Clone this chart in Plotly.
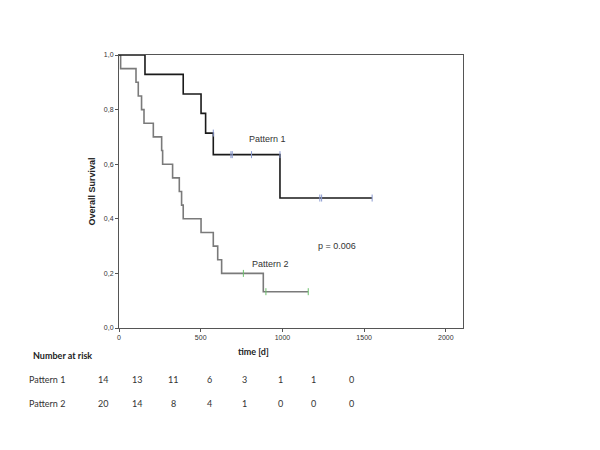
import plotly.graph_objects as go

# Kaplan-Meier steps
p1_time = [0, 159, 393, 502, 530, 577, 985, 1549]
p1_surv = [1.0, 0.929, 0.857, 0.786, 0.714, 0.635, 0.476, 0.476]
p1_cens_time = [577, 685, 693, 811, 985, 1229, 1240, 1549]
p1_cens_surv = [0.714, 0.635, 0.635, 0.635, 0.635, 0.476, 0.476, 0.476]

p2_time = [0, 10, 104, 118, 138, 153, 210, 261, 267, 328, 369, 383, 393, 502, 577, 604, 628, 883, 1158]
p2_surv = [1.0, 0.95, 0.90, 0.85, 0.80, 0.75, 0.70, 0.65, 0.60, 0.55, 0.50, 0.45, 0.40, 0.35, 0.30,
           0.25, 0.20, 0.133, 0.133]
p2_cens_time = [761, 899, 1158]
p2_cens_surv = [0.20, 0.133, 0.133]

risk_groups = ["Pattern 1", "Pattern 2"]
risk_p1 = [14, 13, 11, 6, 3, 1, 1, 0]
risk_p2 = [20, 14, 8, 4, 1, 0, 0, 0]

# page puts the figure 8px in from the window corner
OFF = 8
W, H = 600, 450
# plot area in window pixels
X0, X1, Y0, Y1 = 119, 463, 55, 328
L, T = X0 - OFF, Y0 - OFF
R, B = (W + OFF) - X1, (H + OFF) - Y1
pw, ph = X1 - X0, Y1 - Y0
risk_cols_px = [103, 137, 173, 209, 244, 280, 313, 351]

ARIAL = "Liberation Sans, Arial, sans-serif"
CALIBRI = "Lato, Carlito, sans-serif"


def px_x(x):
    return (x - X0) / pw


def px_y(y):
    return (Y1 - y) / ph


fig = go.Figure()
fig.add_trace(go.Scatter(x=p2_time, y=p2_surv, mode="lines", line_shape="hv",
                         line=dict(color="#7a7a7a", width=1.6), showlegend=False))
fig.add_trace(go.Scatter(x=p1_time, y=p1_surv, mode="lines", line_shape="hv",
                         line=dict(color="#1a1a1a", width=1.6), showlegend=False))
fig.add_trace(go.Scatter(x=p1_cens_time, y=p1_cens_surv, mode="markers",
                         marker=dict(symbol="line-ns", size=5, line=dict(color="#8a9ad0", width=1)),
                         showlegend=False))
fig.add_trace(go.Scatter(x=p2_cens_time, y=p2_cens_surv, mode="markers",
                         marker=dict(symbol="line-ns", size=5, line=dict(color="#6cc06c", width=1)),
                         showlegend=False))

ann = [
    dict(x=px_x(267), y=px_y(139), text="Pattern 1", font=dict(size=9, color="#333", family=ARIAL)),
    dict(x=px_x(270), y=px_y(264), text="Pattern 2", font=dict(size=9, color="#333", family=ARIAL)),
    dict(x=px_x(337), y=px_y(246), text="p = 0.006", font=dict(size=9, color="#333", family=ARIAL)),
    dict(x=px_x(253), y=px_y(351), text="<b>time [d]</b>", font=dict(size=9, color="#222", family=CALIBRI)),
    dict(x=px_x(62), y=px_y(355), text="<b>Number at risk</b>",
         font=dict(size=9, color="#222", family=CALIBRI)),
]
rows_y = [379, 403]
for name, vals, ry in zip(risk_groups, [risk_p1, risk_p2], rows_y):
    ann.append(dict(x=px_x(47), y=px_y(ry), text=name, font=dict(size=9, color="#333", family=CALIBRI)))
    for cx, v in zip(risk_cols_px, vals):
        ann.append(dict(x=px_x(cx), y=px_y(ry), text=str(v),
                        font=dict(size=9, color="#333", family=CALIBRI)))
for a in ann:
    a.update(xref="paper", yref="paper", showarrow=False, xanchor="center", yanchor="middle")
fig.update_layout(annotations=ann)

fig.update_layout(
    width=W, height=H,
    margin=dict(l=L, r=R, t=T, b=B),
    plot_bgcolor="white", paper_bgcolor="white",
    separators=",.",
    font=dict(family=ARIAL, size=7, color="#333"),
    xaxis=dict(range=[0, 2105], tickvals=[0, 500, 1000, 1500, 2000], showgrid=False, zeroline=False,
               showline=True, linecolor="#555", linewidth=1, mirror=True, ticks="outside",
               ticklen=3, tickcolor="#555", tickfont=dict(size=7, family=ARIAL), automargin=False),
    yaxis=dict(range=[0, 1], tickvals=[0, 0.2, 0.4, 0.6, 0.8, 1.0], tickformat=".1f", showgrid=False,
               zeroline=False, showline=True, linecolor="#555", linewidth=1, mirror=True,
               ticks="outside", ticklen=3, tickcolor="#555", tickfont=dict(size=7, family=ARIAL),
               automargin=False,
               title=dict(text="<b>Overall Survival</b>", font=dict(size=9, color="#222", family=ARIAL),
                          standoff=6)),
)

fig.write_html("out.html")
